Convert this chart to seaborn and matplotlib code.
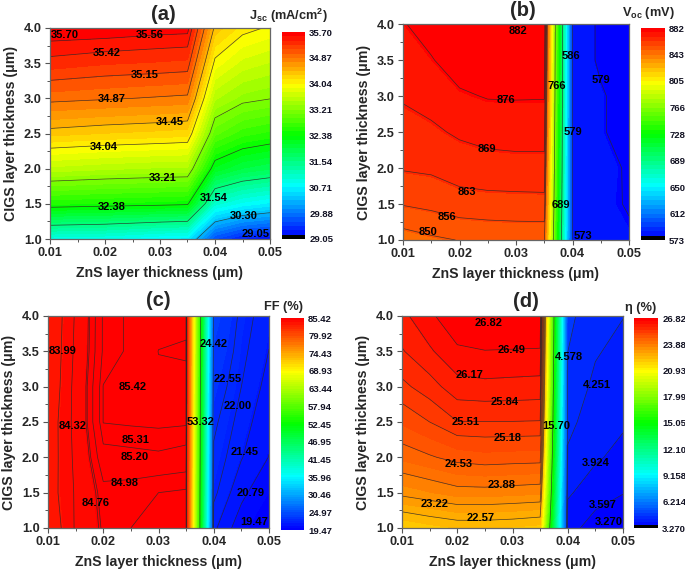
import numpy as np
import matplotlib
matplotlib.use('Agg')
import matplotlib.pyplot as plt
from matplotlib.cm import ScalarMappable
from matplotlib.colors import BoundaryNorm, ListedColormap
from matplotlib.ticker import MultipleLocator, FormatStrFormatter
import seaborn as sns

# CIGS thickness, shared by all four panels
cigs = [1.0, 1.5, 2.0, 2.5, 3.0, 3.5, 4.0]

# (a) Jsc, one row per ZnS thickness
jsc_zns = [0.01, 0.02, 0.03, 0.035, 0.04, 0.045, 0.05]
jsc = [
    [30.90, 32.54, 33.58, 34.37, 34.93, 35.36, 35.68],
    [30.85, 32.49, 33.51, 34.31, 34.89, 35.30, 35.67],
    [30.70, 32.45, 33.46, 34.27, 34.85, 35.27, 35.63],
    [30.65, 32.42, 33.45, 34.24, 34.83, 35.25, 35.62],
    [29.60, 31.04, 32.20, 32.97, 33.51, 33.98, 34.40],
    [29.30, 30.80, 31.95, 32.71, 33.29, 33.71, 34.12],
    [29.20, 30.67, 31.84, 32.61, 33.22, 33.61, 34.01],
]
jsc_lines = [30.30, 31.54, 32.38, 33.21, 34.04, 34.45, 34.87, 35.15, 35.42, 35.56]
jsc_ticks = ['29.05', '29.88', '30.71', '31.54', '32.38', '33.21', '34.04', '34.87', '35.70']

# (b) Voc
voc_zns = [0.01, 0.015, 0.02, 0.025, 0.03, 0.035, 0.04, 0.045, 0.05]
voc = [
    [847.0, 857.0, 863.5, 866.8, 870.1, 873.0, 875.5],
    [849.0, 858.3, 864.1, 868.2, 871.9, 875.5, 878.5],
    [850.4, 860.4, 865.8, 870.4, 875.0, 879.0, 881.5],
    [851.5, 860.7, 866.8, 871.7, 876.3, 879.5, 881.9],
    [852.0, 860.8, 867.2, 872.0, 876.4, 879.6, 881.9],
    [852.0, 861.0, 867.2, 872.0, 876.3, 879.3, 881.9],
    [585.0, 585.0, 585.0, 585.0, 585.0, 585.0, 585.0],
    [582.0, 580.3, 581.3, 579.75, 580.0, 577.5, 577.5],
    [579.8, 578.6, 578.2, 576.0, 575.0, 574.0, 573.5],
]
voc_lines = [579, 586, 689, 766, 850.2, 856.6, 863, 869.4, 875.9]
voc_ticks = ['573', '612', '650', '689', '728', '766', '805', '843', '882']

# (c) FF
ff_zns = [0.01, 0.015, 0.02, 0.025, 0.03, 0.035, 0.04, 0.045, 0.05]
ff = [
    [83.65, 83.78, 83.75, 83.74, 83.65, 83.62, 83.60],
    [84.36, 84.36, 84.40, 84.43, 84.43, 84.39, 84.36],
    [84.84, 84.91, 85.13, 85.315, 85.315, 85.23, 85.23],
    [84.80, 84.88, 85.15, 85.33, 85.36, 85.34, 85.34],
    [84.77, 84.80, 85.17, 85.34, 85.39, 85.401, 85.38],
    [84.77, 84.765, 85.13, 85.33, 85.36, 85.415, 85.368],
    [21.60, 22.15, 22.42, 22.70, 23.05, 23.50, 24.00],
    [20.35, 20.99, 21.49, 21.74, 22.00, 22.17, 22.32],
    [19.50, 20.14, 20.77, 21.00, 21.22, 21.44, 21.60],
]
ff_lines = [20.79, 21.45, 22.00, 22.55, 24.42, 53.32, 83.99, 84.32, 84.76, 84.80, 84.98, 85.20, 85.31, 85.40]
ff_ticks = ['19.47', '24.97', '30.46', '35.96', '41.45', '46.95', '52.45', '57.94', '63.44',
            '68.93', '74.43', '79.92', '85.42']

# (d) efficiency
eta_zns = [0.01, 0.015, 0.02, 0.025, 0.03, 0.035, 0.04, 0.045, 0.05]
eta = [
    [21.90, 23.36, 24.29, 24.91, 25.42, 25.81, 26.08],
    [22.10, 23.53, 24.48, 25.18, 25.69, 26.12, 26.42],
    [22.25, 23.71, 24.67, 25.50, 26.04, 26.43, 26.75],
    [22.25, 23.72, 24.75, 25.50, 26.08, 26.48, 26.80],
    [22.20, 23.67, 24.72, 25.50, 26.06, 26.47, 26.80],
    [22.10, 23.62, 24.70, 25.49, 26.04, 26.46, 26.80],
    [3.72, 3.97, 4.20, 4.34, 4.46, 4.58, 4.65],
    [3.45, 3.74, 3.97, 4.08, 4.18, 4.28, 4.40],
    [3.31, 3.61, 3.82, 3.97, 4.07, 4.16, 4.26],
]
eta_lines = [3.597, 3.924, 4.251, 4.578, 15.70, 22.57, 23.22, 23.88, 24.53, 25.18, 25.51, 25.84, 26.17, 26.49]
eta_ticks = ['3.270', '6.214', '9.158', '12.10', '15.05', '17.99', '20.93', '23.88', '26.82']

# contour labels: text, ZnS, CIGS
jsc_labels = [('35.70', .0127, 3.905), ('35.56', .0282, 3.905), ('35.42', .0204, 3.65), ('35.15', .0273, 3.33),
              ('34.87', .0212, 2.99), ('34.45', .0317, 2.66), ('34.04', .0198, 2.31), ('33.21', .0304, 1.87),
              ('32.38', .0213, 1.45), ('31.54', .0398, 1.58), ('30.30', .0452, 1.32), ('29.05', .0474, 1.07)]
voc_labels = [('882', .0303, 3.90), ('876', .0283, 2.94), ('869', .0249, 2.26), ('863', .0213, 1.67),
              ('856', .0177, 1.32), ('850', .0144, 1.11), ('586', .0397, 3.55), ('766', .0373, 3.14),
              ('579', .0450, 3.22), ('579', .0400, 2.50), ('689', .0379, 1.49), ('573', .0419, 1.06)]
ff_labels = [('83.99', .0127, 3.50), ('24.42', .0400, 3.61), ('85.42', .0253, 2.99), ('22.55', .0425, 3.11),
             ('22.00', .0443, 2.72), ('84.32', .0145, 2.44), ('53.32', .0376, 2.50), ('85.31', .0258, 2.25),
             ('85.20', .0256, 2.00), ('21.45', .0456, 2.07), ('84.98', .0238, 1.64), ('20.79', .0467, 1.50),
             ('84.76', .0186, 1.35), ('19.47', .0474, 1.08)]
eta_labels = [('26.82', .0256, 3.90), ('26.49', .0298, 3.52), ('4.578', .0403, 3.42), ('26.17', .0222, 3.17),
              ('4.251', .0453, 3.03), ('25.84', .0286, 2.78), ('25.51', .0216, 2.50), ('15.70', .0379, 2.44),
              ('25.18', .0291, 2.28), ('24.53', .0202, 1.91), ('3.924', .0451, 1.92), ('23.88', .0280, 1.61),
              ('23.22', .0159, 1.34), ('3.597', .0464, 1.33), ('22.57', .0242, 1.14), ('3.270', .0474, 1.08)]

W, H = 685, 569

sns.set_theme(style='ticks')
plt.rcParams['font.family'] = ['Liberation Sans', 'DejaVu Sans']
plt.rcParams['font.weight'] = 'bold'
plt.rcParams['mathtext.fontset'] = 'custom'
plt.rcParams['mathtext.bf'] = 'Liberation Sans:bold'
plt.rcParams['mathtext.rm'] = 'Liberation Sans:bold'

rainbow = ['#0000ff', '#00ffff', '#00ff00', '#ffff00', '#ff0000']


def box(left, top, right, bottom):
    """pixel box to figure fractions"""
    return [left / W, 1 - bottom / H, (right - left) / W, (bottom - top) / H]


def panel(fig, zns, values, lines, labels, ticks, lo, hi, n_levels, black, ax_box, cb_box, tag, tag_xy, unit, unit_xy):
    ax = fig.add_axes(box(*ax_box))
    cax = fig.add_axes(box(*cb_box))

    levels = np.linspace(lo, hi, n_levels + 1)
    colors = sns.blend_palette(rainbow, n_levels)
    z = np.array(values).T
    ax.contourf(zns, cigs, z, levels=levels, colors=colors)
    ax.contour(zns, cigs, z, levels=lines, colors='#2a2a2a', linewidths=0.5, alpha=0.85)

    for text, x, y in labels:
        ax.text(x, y, text, fontsize=8, fontweight='bold', color='black', ha='center', va='center')

    ax.set_xlim(0.01, 0.05)
    ax.set_ylim(1, 4)
    ax.xaxis.set_major_locator(MultipleLocator(0.01))
    ax.xaxis.set_minor_locator(MultipleLocator(0.005))
    ax.yaxis.set_major_locator(MultipleLocator(0.5))
    ax.yaxis.set_minor_locator(MultipleLocator(0.25))
    ax.xaxis.set_major_formatter(FormatStrFormatter('%.2f'))
    ax.yaxis.set_major_formatter(FormatStrFormatter('%.1f'))
    ax.tick_params(which='major', length=3.5, width=0.8, color='#555555', labelsize=9.2, pad=2.5)
    ax.tick_params(which='minor', length=2, width=0.7, color='#555555')
    for s in ax.spines.values():
        s.set_color('#666666')
        s.set_linewidth(0.9)
    ax.set_xlabel('ZnS layer thickness (μm)', fontsize=10.2, fontweight='bold', labelpad=5)
    ax.set_ylabel('CIGS layer thickness (μm)', fontsize=10.2, fontweight='bold', labelpad=4)

    # colorbar has its own black bottom band in some panels
    bar_colors = list(colors)
    if black:
        bar_colors[0] = (0, 0, 0)
    sm = ScalarMappable(BoundaryNorm(levels, n_levels), ListedColormap(bar_colors))
    cb = fig.colorbar(sm, cax=cax, spacing='proportional')
    cb.set_ticks(np.linspace(lo, hi, len(ticks)))
    cb.set_ticklabels(ticks)
    cb.minorticks_off()
    cb.ax.tick_params(length=0, labelsize=6.8, pad=3, labelcolor='#111122')
    cb.outline.set_visible(False)

    fig.text(tag_xy[0] / W, 1 - tag_xy[1] / H, tag, fontsize=14.5, fontweight='bold', ha='center', va='center')
    fig.text(unit_xy[0] / W, 1 - unit_xy[1] / H, unit, fontsize=9.2, fontweight='bold', ha='center', va='center')


fig = plt.figure(figsize=(W / 100, H / 100), dpi=100)

panel(fig, jsc_zns, jsc, jsc_lines, jsc_labels, jsc_ticks, 29.05, 35.70, 48, True,
      (50, 28, 270, 239), (282, 32, 305, 239), '(a)', (163, 14),
      r'$\mathbf{J_{sc}}$ (mA/cm$\mathbf{^{2}}$)', (288, 16))
panel(fig, voc_zns, voc, voc_lines, voc_labels, voc_ticks, 573, 882, 48, True,
      (403, 24, 629, 240), (641, 28, 665, 240), '(b)', (523, 10),
      r'$\mathbf{V_{oc}}$ (mV)', (648, 13))
panel(fig, ff_zns, ff, ff_lines, ff_labels, ff_ticks, 19.47, 85.42, 96, False,
      (48, 316, 269, 528), (281, 318, 304, 530), '(c)', (158, 301),
      'FF (%)', (284, 307))
panel(fig, eta_zns, eta, eta_lines, eta_labels, eta_ticks, 3.27, 26.82, 72, True,
      (402, 316, 623, 528), (634, 318, 658, 528), '(d)', (526, 302),
      'η (%)', (641, 308))

fig.savefig('out.png', dpi=100)
